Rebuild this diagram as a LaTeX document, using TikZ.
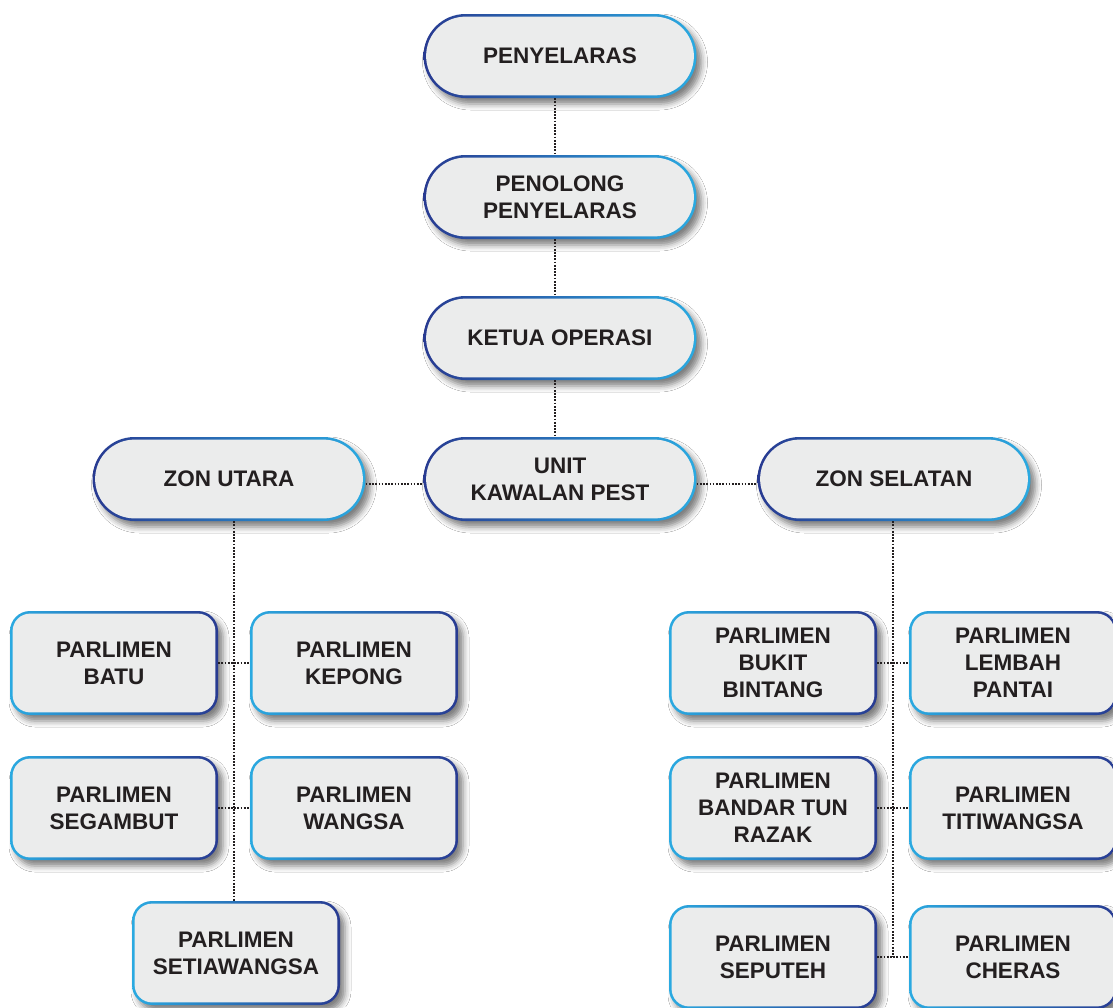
\documentclass[tikz,border=0pt]{standalone}
\usepackage{fontspec}
\setmainfont{Liberation Sans}
\usetikzlibrary{shadows.blur,calc}
\definecolor{dkblue}{RGB}{40,58,145}
\definecolor{ltblue}{RGB}{42,170,225}
\definecolor{boxfill}{RGB}{235,236,236}
\definecolor{txt}{RGB}{35,31,32}
\tikzset{
 base/.style={inner sep=0pt, align=center, text=txt, font=\fontsize{22.5}{27}\selectfont\bfseries,
   blur shadow={shadow xshift=5pt, shadow yshift=-6pt, shadow blur radius=6pt, shadow opacity=50}},
 pill/.style={base, minimum width=273pt, minimum height=84pt, rounded corners=42pt,
   left color=dkblue, right color=ltblue,
   path picture={\fill[boxfill, rounded corners=39.5pt]
     ([shift={(2.6pt,2.6pt)}]path picture bounding box.south west) rectangle
     ([shift={(-2.6pt,-2.6pt)}]path picture bounding box.north east);}},
 parl/.style={base, minimum width=208pt, minimum height=104pt, rounded corners=20pt,
   left color=ltblue, right color=dkblue,
   path picture={\fill[boxfill, rounded corners=17.5pt]
     ([shift={(2.6pt,2.6pt)}]path picture bounding box.south west) rectangle
     ([shift={(-2.6pt,-2.6pt)}]path picture bounding box.north east);}},
 link/.style={draw=txt, line width=1.7pt, dash pattern=on 1.7pt off 1.5pt}
}
\begin{document}
\begin{tikzpicture}[x=1pt,y=-1pt]
\useasboundingbox[fill=white] (0,0) rectangle (1113,1007);
% top chain
\node[pill] (peny) at (560,56) {PENYELARAS};
\node[pill] (peno) at (560,197) {PENOLONG\\PENYELARAS};
\node[pill] (ketua) at (560,338) {KETUA OPERASI};
\node[pill] (unit) at (560,479) {UNIT\\KAWALAN PEST};
\node[pill] (utara) at (229,479) {ZON UTARA};
\node[pill] (selatan) at (894,479) {ZON SELATAN};
% left parliaments
\node[parl] (batu) at (114,663) {PARLIMEN\\BATU};
\node[parl] (kepong) at (354,663) {PARLIMEN\\KEPONG};
\node[parl] (segambut) at (114,808) {PARLIMEN\\SEGAMBUT};
\node[parl] (wangsa) at (354,808) {PARLIMEN\\WANGSA};
\node[parl] (setia) at (236,953) {PARLIMEN\\SETIAWANGSA};
% right parliaments
\node[parl] (bukit) at (773,663) {PARLIMEN\\BUKIT\\BINTANG};
\node[parl] (lembah) at (1013,663) {PARLIMEN\\LEMBAH\\PANTAI};
\node[parl] (bandar) at (773,808) {PARLIMEN\\BANDAR TUN\\RAZAK};
\node[parl] (titi) at (1013,808) {PARLIMEN\\TITIWANGSA};
\node[parl] (seputeh) at (773,957) {PARLIMEN\\SEPUTEH};
\node[parl] (cheras) at (1013,957) {PARLIMEN\\CHERAS};
% connectors
\draw[link] ([xshift=-5pt]peny.south) -- ([xshift=-5pt]peno.north);
\draw[link] ([xshift=-5pt]peno.south) -- ([xshift=-5pt]ketua.north);
\draw[link] ([xshift=-5pt]ketua.south) -- ([xshift=-5pt]unit.north);
\draw[link] ([yshift=-5pt]utara.east) -- ([yshift=-5pt]unit.west);
\draw[link] ([yshift=-5pt]unit.east) -- ([yshift=-5pt]selatan.west);
\draw[link] ([xshift=-2pt]utara.south -| setia.north) -- ([xshift=-2pt]setia.north);
\draw[link] (batu.east) -- (kepong.west);
\draw[link] (segambut.east) -- (wangsa.west);
\draw[link] ([xshift=-1pt]selatan.south) -- ([xshift=-1pt]selatan.south |- seputeh.east);
\draw[link] (bukit.east) -- (lembah.west);
\draw[link] (bandar.east) -- (titi.west);
\draw[link] (seputeh.east) -- (cheras.west);
\end{tikzpicture}
\end{document}
